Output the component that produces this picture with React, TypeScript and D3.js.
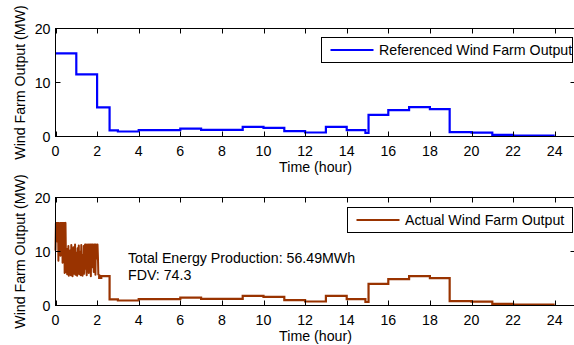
import React from "react";
import * as d3 from "d3";

// ---- data ----
const xTicks = [0, 2, 4, 6, 8, 10, 12, 14, 16, 18, 20, 22, 24];
const yTicks = [0, 10, 20];

// Referenced output: step starts (hour) and values (MW)
const refTimes = [0, 1, 2, 2.6, 3, 4, 6, 7, 9, 10, 11, 12, 13, 14, 14.9, 15.05, 16, 17, 18, 18.95, 20, 21, 22, 24];
const refValues = [15.4, 11.5, 5.4, 1.15, 0.93, 1.17, 1.45, 1.23, 1.8, 1.6, 0.98, 0.74, 1.8, 1.17, 0.65, 4.0, 4.9, 5.45, 5.07, 0.8, 0.72, 0.3, 0.17, 0.17];

// Actual output: noisy first two hours sampled every 0.02 h
const actualNoiseStep = 0.02;
const actualNoisyValues = [
  10.2, 15.3, 13.0, 15.3, 15.3, 11.8, 15.3, 8.3, 15.3, 15.2, 12.5, 15.3, 9.2, 15.3, 15.3, 10.6, 15.3, 7.9, 15.3, 15.3,
  12.2, 15.3, 6.0, 14.8, 15.3, 9.5,
  6.2, 10.5, 5.8, 9.2, 6.6, 11.0, 5.5, 8.4, 6.1, 10.2, 7.0, 5.6, 11.2, 6.3, 9.0, 5.4, 7.8, 10.8, 5.9, 8.6, 6.4, 11.3,
  5.7, 9.8, 6.2, 7.4, 5.5, 10.6, 6.0, 8.9, 11.1, 5.8, 7.2, 6.5, 10.0, 5.6, 11.2, 6.1, 8.0, 5.5, 9.4, 6.3, 11.0, 5.9, 8.5,
  11.3, 6.8, 11.3, 10.1, 5.6, 11.3, 11.0, 8.2, 11.3, 6.0, 11.2, 11.3, 9.6, 11.3, 5.4, 11.3, 10.5, 11.3, 7.1, 11.3,
  11.2, 6.2, 11.3, 9.9, 11.3, 5.7, 11.3, 11.1, 8.7, 11.3, 11.3, 9.0,
];
const actualTailTimes = [2.06, 2.1, 2.2, 2.6, 3, 4, 6, 7, 9, 10, 11, 12, 13, 14, 14.9, 15.05, 16, 17, 18, 18.95, 20, 21, 22, 24];
const actualTailValues = [5.6, 5.1, 5.45, 1.15, 0.93, 1.17, 1.45, 1.23, 1.8, 1.6, 0.98, 0.74, 1.8, 1.17, 0.65, 4.0, 4.9, 5.45, 5.07, 0.8, 0.72, 0.3, 0.17, 0.17];

const FONT = "'Liberation Sans', Arial, Helvetica, sans-serif";
const FS = 14.2;

type Pt = [number, number];

function Panel(props: {
  top: number;
  bottom: number;
  stepData: Pt[];
  noisyData?: Pt[];
  color: string;
  legend: string;
  legendBox: { x: number; y: number; w: number; h: number };
  children?: React.ReactNode;
}) {
  const { top, bottom, stepData, noisyData, color, legend, legendBox } = props;
  const left = 55.5;
  const right = 575.5;
  const x = d3.scaleLinear().domain([0, 25]).range([left, right]);
  const y = d3.scaleLinear().domain([0, 20]).range([bottom, top]);
  const stepLine = d3
    .line<Pt>()
    .x((d) => x(d[0]))
    .y((d) => y(d[1]))
    .curve(d3.curveStepAfter)(stepData);
  const noisyLine = noisyData
    ? d3
        .line<Pt>()
        .x((d) => x(d[0]))
        .y((d) => y(d[1]))(noisyData)
    : null;
  const tl = 5;
  const midY = (top + bottom) / 2;
  return (
    <g>
      {noisyLine && <path d={noisyLine} fill="none" stroke={color} strokeWidth={2} strokeLinejoin="round" />}
      <path d={stepLine || ""} fill="none" stroke={color} strokeWidth={2.2} />
      {/* frame */}
      <rect x={left} y={top} width={right - left} height={bottom - top} fill="none" stroke="#000" strokeWidth={1} />
      {xTicks.map((t) => (
        <g key={"x" + t}>
          <line x1={Math.round(x(t)) + 0.5} x2={Math.round(x(t)) + 0.5} y1={bottom} y2={bottom - tl} stroke="#000" />
          <line x1={Math.round(x(t)) + 0.5} x2={Math.round(x(t)) + 0.5} y1={top} y2={top + tl} stroke="#000" />
          <text x={x(t)} y={bottom + 19} textAnchor="middle" fontSize={FS} fontFamily={FONT} fill="#000">
            {t}
          </text>
        </g>
      ))}
      {yTicks.map((t) => (
        <g key={"y" + t}>
          <line x1={left} x2={left + tl} y1={y(t)} y2={y(t)} stroke="#000" />
          <line x1={right} x2={right - tl} y1={y(t)} y2={y(t)} stroke="#000" />
          <text x={50.5} y={y(t) + 5} textAnchor="end" fontSize={FS} fontFamily={FONT} fill="#000">
            {t}
          </text>
        </g>
      ))}
      <text x={(left + right) / 2} y={bottom + 35} textAnchor="middle" fontSize={FS} fontFamily={FONT} fill="#000">
        Time (hour)
      </text>
      <text
        transform={`translate(25,${midY}) rotate(-90)`}
        textAnchor="middle"
        fontSize={FS}
        fontFamily={FONT}
        fill="#000"
      >
        Wind Farm Output (MW)
      </text>
      {/* legend */}
      <rect x={legendBox.x} y={legendBox.y} width={legendBox.w} height={legendBox.h} fill="#fff" stroke="#000" strokeWidth={1} />
      <line
        x1={legendBox.x + 9}
        x2={legendBox.x + 52}
        y1={legendBox.y + legendBox.h / 2}
        y2={legendBox.y + legendBox.h / 2}
        stroke={color}
        strokeWidth={2}
      />
      <text x={legendBox.x + 57.5} y={legendBox.y + legendBox.h / 2 + 5} fontSize={FS} fontFamily={FONT} fill="#000">
        {legend}
      </text>
      {props.children}
    </g>
  );
}

export default function App() {
  const refData: Pt[] = refTimes.map((t, i) => [t, refValues[i]]);
  const tailData: Pt[] = actualTailTimes.map((t, i) => [t, actualTailValues[i]] as Pt);
  const noisyData: Pt[] = [...actualNoisyValues.map((v, i) => [i * actualNoiseStep, v] as Pt), tailData[0]];
  return (
    <svg width={574} height={345} style={{ position: "absolute", left: 0, top: 0, background: "#fff" }}>
      <Panel
        top={28.5}
        bottom={136.5}
        stepData={refData}
        color="#0000ff"
        legend="Referenced Wind Farm Output"
        legendBox={{ x: 321.5, y: 37.5, w: 251, h: 25 }}
      />
      <Panel
        top={197.5}
        bottom={305.5}
        stepData={tailData}
        noisyData={noisyData}
        color="#993300"
        legend="Actual Wind Farm Output"
        legendBox={{ x: 347.5, y: 207.5, w: 225, h: 25 }}
      >
        <text x={128} y={262.5} fontSize={FS} fontFamily={FONT} fill="#000">
          Total Energy Production: 56.49MWh
        </text>
        <text x={128} y={279.5} fontSize={FS} fontFamily={FONT} fill="#000">
          FDV: 74.3
        </text>
      </Panel>
    </svg>
  );
}
